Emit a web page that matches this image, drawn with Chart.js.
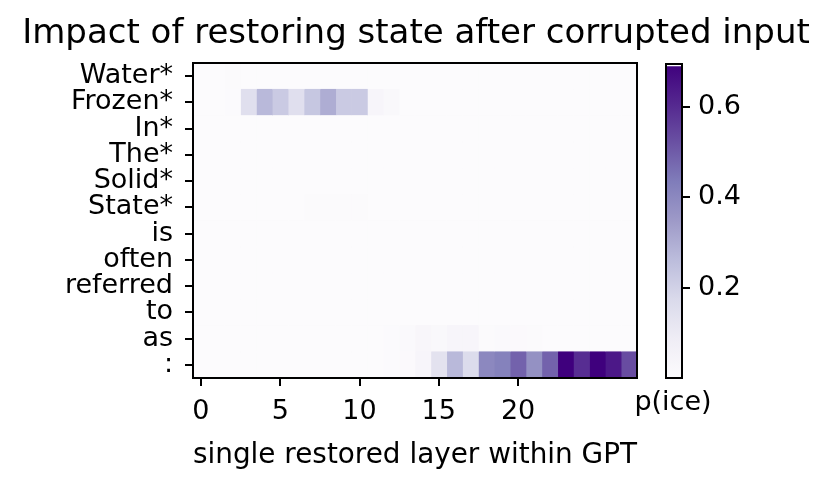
<!DOCTYPE html>
<html>
<head>
<meta charset="utf-8">
<script src="https://cdn.jsdelivr.net/npm/chart.js@4"></script>
<style>
  html, body { margin: 0; padding: 0; background: #fff; }
  #wrap { position: relative; width: 832px; height: 486px; }
  #heat { position: absolute; left: 0; top: 0; }
  #cbar { position: absolute; left: 600px; top: 0; }
</style>
</head>
<body>
<div id="wrap">
  <canvas id="heat" width="832" height="486"></canvas>
  <canvas id="cbar" width="146" height="486"></canvas>
</div>
<script>
// tokens (rows) and p(ice) per restored layer (columns 0..27)
const tokens = ['Water*', 'Frozen*', 'In*', 'The*', 'Solid*', 'State*', 'is', 'often', 'referred', 'to', 'as', ':'];
const xTicks = [0, 5, 10, 15, 20];
const cbTicks = [0.2, 0.4, 0.6];
const vMin = 0;
const vMax = 0.694;

const pWater    = [0, 0, 0.008, 0, 0, 0, 0, 0, 0, 0, 0, 0, 0, 0, 0, 0, 0, 0, 0, 0, 0, 0, 0, 0, 0, 0, 0, 0];
const pFrozen   = [0, 0, 0.005, 0.15, 0.27, 0.22, 0.15, 0.23, 0.30, 0.22, 0.22, 0.035, 0.02, 0, 0, 0, 0, 0, 0, 0, 0, 0, 0, 0, 0, 0, 0, 0];
const pIn       = [0, 0, 0, 0, 0, 0, 0, 0, 0, 0, 0, 0, 0, 0, 0, 0, 0, 0, 0, 0, 0, 0, 0, 0, 0, 0, 0, 0];
const pThe      = [0, 0, 0, 0, 0, 0, 0, 0, 0, 0, 0, 0, 0, 0, 0, 0, 0, 0, 0, 0, 0, 0, 0, 0, 0, 0, 0, 0];
const pSolid    = [0, 0, 0, 0, 0, 0, 0, 0, 0, 0, 0, 0, 0, 0, 0, 0, 0, 0, 0, 0, 0, 0, 0, 0, 0, 0, 0, 0];
const pState    = [0, 0, 0, 0, 0, 0, 0, 0.008, 0.008, 0.008, 0.008, 0, 0, 0, 0, 0, 0, 0, 0, 0, 0, 0, 0, 0, 0, 0, 0, 0];
const pIs       = [0, 0, 0, 0, 0, 0, 0, 0, 0, 0, 0, 0, 0, 0, 0, 0, 0, 0, 0, 0, 0, 0, 0, 0, 0, 0, 0, 0];
const pOften    = [0, 0, 0, 0, 0, 0, 0, 0, 0, 0, 0, 0, 0, 0, 0, 0, 0, 0, 0, 0, 0, 0, 0, 0, 0, 0, 0, 0];
const pReferred = [0, 0, 0, 0, 0, 0, 0, 0, 0, 0, 0, 0, 0, 0, 0, 0, 0, 0, 0, 0, 0, 0, 0, 0, 0, 0, 0, 0];
const pTo       = [0, 0, 0, 0, 0, 0, 0, 0, 0, 0, 0, 0, 0, 0, 0, 0, 0, 0, 0, 0, 0, 0, 0, 0, 0, 0, 0, 0];
const pAs       = [0, 0, 0, 0, 0, 0, 0, 0, 0, 0, 0, 0, 0.004, 0.015, 0.03, 0.02, 0.035, 0.035, 0.008, 0.015, 0.01, 0.008, 0, 0, 0, 0, 0, 0];
const pColon    = [0, 0, 0, 0, 0, 0, 0, 0, 0, 0, 0, 0, 0.004, 0.01, 0.035, 0.136, 0.27, 0.165, 0.40, 0.42, 0.486, 0.375, 0.486, 0.694, 0.595, 0.694, 0.64, 0.53];

const rows = [pWater, pFrozen, pIn, pThe, pSolid, pState, pIs, pOften, pReferred, pTo, pAs, pColon];

// matplotlib "Purples"
const purples = ['#fcfbfd', '#efedf5', '#dadaeb', '#bcbddc', '#9e9ac8', '#807dba', '#6a51a3', '#54278f', '#3f007d'];

function hexRgb(h) {
  return [1, 3, 5].map(i => parseInt(h.slice(i, i + 2), 16));
}

function purple(v) {
  let t = (v - vMin) / (vMax - vMin);
  t = Math.max(0, Math.min(1, t)) * (purples.length - 1);
  const i = Math.min(Math.floor(t), purples.length - 2);
  const f = t - i;
  const a = hexRgb(purples[i]), b = hexRgb(purples[i + 1]);
  const c = a.map((x, k) => Math.round(x + (b[k] - x) * f));
  return `rgb(${c[0]},${c[1]},${c[2]})`;
}

Chart.defaults.font.family = 'DejaVu Sans';
Chart.defaults.color = '#000';

const frame = {
  id: 'frame',
  afterDraw(chart) {
    const { ctx, chartArea: a } = chart;
    ctx.save();
    ctx.strokeStyle = '#000';
    ctx.lineWidth = 2;
    ctx.strokeRect(a.left, a.top, a.right - a.left, a.bottom - a.top);
    ctx.restore();
  }
};

// empty axis used only to reserve room
const spacer = w => ({
  type: 'linear',
  display: true,
  afterFit: s => { s.width = w; },
  border: { display: false },
  grid: { display: false },
  ticks: { display: false }
});

// one floating-bar dataset per layer, one bar per token
const layerDatasets = rows[0].map((_, l) => ({
  data: tokens.map(() => [l - 0.5, l + 0.5]),
  backgroundColor: rows.map(r => purple(r[l])),
  borderWidth: 0,
  grouped: false,
  barPercentage: 1,
  categoryPercentage: 1
}));

new Chart(document.getElementById('heat'), {
  type: 'bar',
  data: { labels: tokens, datasets: layerDatasets },
  options: {
    indexAxis: 'y',
    responsive: false,
    animation: false,
    devicePixelRatio: 1,
    layout: { padding: 0 },
    plugins: {
      legend: { display: false },
      tooltip: { enabled: false },
      title: {
        display: true,
        text: 'Impact of restoring state after corrupted input',
        font: { size: 34, weight: 'normal' },
        color: '#000',
        padding: { top: 14, bottom: 8.2 }
      }
    },
    scales: {
      x: {
        type: 'linear',
        min: -0.5,
        max: 27.5,
        afterBuildTicks: s => { s.ticks = xTicks.map(v => ({ value: v })); },
        afterFit: s => { s.height = 108; },
        border: { display: false },
        grid: { drawOnChartArea: false, drawTicks: true, tickLength: 8, color: '#000', lineWidth: 2 },
        ticks: { font: { size: 27 }, color: '#000', padding: 10, maxRotation: 0 },
        title: {
          display: true,
          text: 'single restored layer within GPT',
          font: { size: 29 },
          color: '#000',
          padding: { top: 0, bottom: 13 }
        }
      },
      y: {
        afterFit: s => { s.width = 193; },
        border: { display: false },
        grid: { offset: false, drawOnChartArea: false, drawTicks: true, tickLength: 8, color: '#000', lineWidth: 2 },
        ticks: { font: { size: 27 }, color: '#000', padding: 12, autoSkip: false }
      },
      yRight: { ...spacer(195), position: 'right' }
    }
  },
  plugins: [frame]
});

// colour bar
new Chart(document.getElementById('cbar'), {
  type: 'bar',
  data: {
    labels: [''],
    datasets: [{
      data: [[vMin, vMax]],
      backgroundColor: c => {
        const a = c.chart.chartArea;
        if (!a) return purples[0];
        const g = c.chart.ctx.createLinearGradient(0, a.bottom, 0, a.top);
        purples.forEach((col, i) => g.addColorStop(i / (purples.length - 1), col));
        return g;
      },
      borderWidth: 0,
      barPercentage: 1,
      categoryPercentage: 1
    }]
  },
  options: {
    responsive: false,
    animation: false,
    devicePixelRatio: 1,
    layout: { padding: { left: 0, right: 0, top: 64, bottom: 0 } },
    plugins: {
      legend: { display: false },
      tooltip: { enabled: false },
      title: {
        display: true,
        position: 'bottom',
        text: 'p(ice)',
        font: { size: 27, weight: 'normal' },
        color: '#000',
        padding: { top: 9, bottom: 66.6 }
      }
    },
    scales: {
      x: { display: false },
      yLeft: { ...spacer(66), position: 'left' },
      y: {
        position: 'right',
        min: vMin,
        max: vMax,
        afterBuildTicks: s => { s.ticks = cbTicks.map(v => ({ value: v })); },
        afterFit: s => { s.width = 64; },
        border: { display: false },
        grid: { drawOnChartArea: false, drawTicks: true, tickLength: 8, color: '#000', lineWidth: 2 },
        ticks: { font: { size: 27 }, color: '#000', padding: 8, callback: v => v.toFixed(1) }
      }
    }
  },
  plugins: [frame]
});
</script>
</body>
</html>
